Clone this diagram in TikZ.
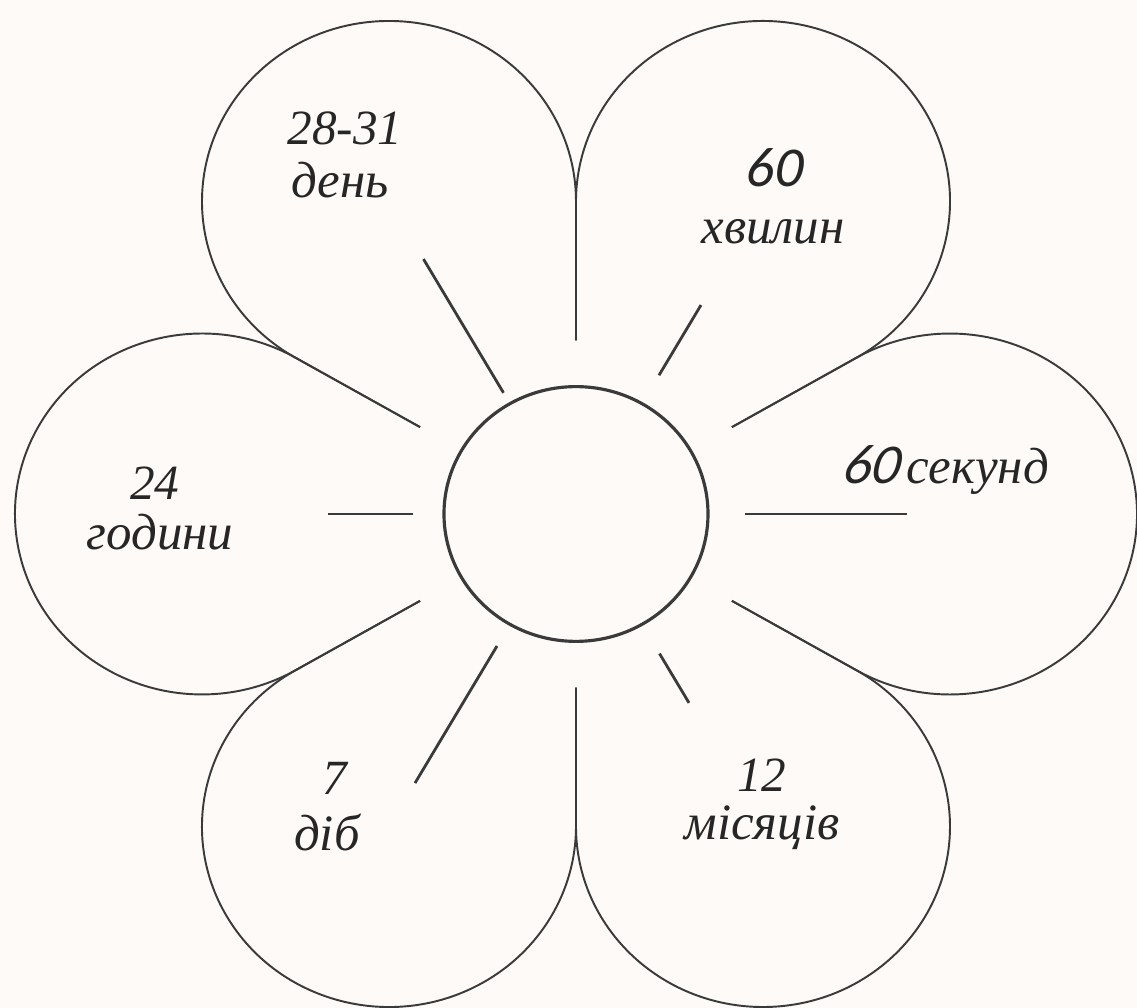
\documentclass[tikz,border=0pt]{standalone}
\usepackage{fontspec}
\setmainfont{Liberation Serif}
\newfontfamily\digitfont{Carlito}[FakeSlant=0.18]
\usetikzlibrary{positioning}
\definecolor{paper}{HTML}{FDFAF7}
\definecolor{ink}{HTML}{3A3A3A}
\tikzset{
  petal/.style={draw=ink,line width=0.55pt,line join=round},
  ray/.style={draw=ink,line width=0.8pt},
  hub/.style={draw=ink,line width=0.9pt},
  word/.style={font=\fontsize{14.5}{16}\selectfont\itshape,text=black!85,inner sep=0pt},
  num/.style={word,font=\fontsize{14}{16}\selectfont\itshape},
  bignum/.style={word,font=\fontsize{16}{18}\selectfont\digitfont},
}
\begin{document}
\begin{tikzpicture}
  \fill[paper] (-5.76,-4.94) rectangle (5.61,5.14);
  \useasboundingbox (-5.76,-4.94) rectangle (5.61,5.14);
  % petals and hub
  \begin{scope}[yscale=0.965]
    \foreach \a in {0,60,...,300}
      \draw[petal] (\a-30:1.8) -- (\a-30:3.239)
        arc[start angle=\a-120,end angle=\a+120,radius=1.87] -- (\a+30:1.8);
    \draw[hub] (0,0) circle[radius=1.32];
    % rays: angle/inner/outer
    \foreach \a/\ri/\ro in {120/1.45/3.05, 60/1.66/2.5, 0/1.69/3.31,
                           -60/1.67/2.26, -120/1.58/3.22, 180/1.63/2.48}
      \draw[ray] (\a:\ri) -- (\a:\ro);
  \end{scope}
  % labels
  \node[num]  (month)  at (-2.31,3.86) {28-31};
  \node[word] (monthw) at (-2.36,3.34) {день};
  \node[bignum] (hour) at (1.97,3.46) {60};
  \node[word] (hourw)  at (1.97,2.82) {хвилин};
  \node[word] (minute) at (3.69,0.44) {{\digitfont\fontsize{16}{18}\selectfont 60}\,секунд};
  \node[num]  (day)    at (-4.21,0.31) {24};
  \node[word] (dayw)   at (-4.16,-0.18) {години};
  \node[num]  (week)   at (-2.41,-2.64) {7};
  \node[word] (weekw)  at (-2.49,-3.19) {діб};
  \node[num]  (year)   at (1.86,-2.61) {12};
  \node[word] (yearw)  at (1.86,-3.14) {місяців};
\end{tikzpicture}
\end{document}
